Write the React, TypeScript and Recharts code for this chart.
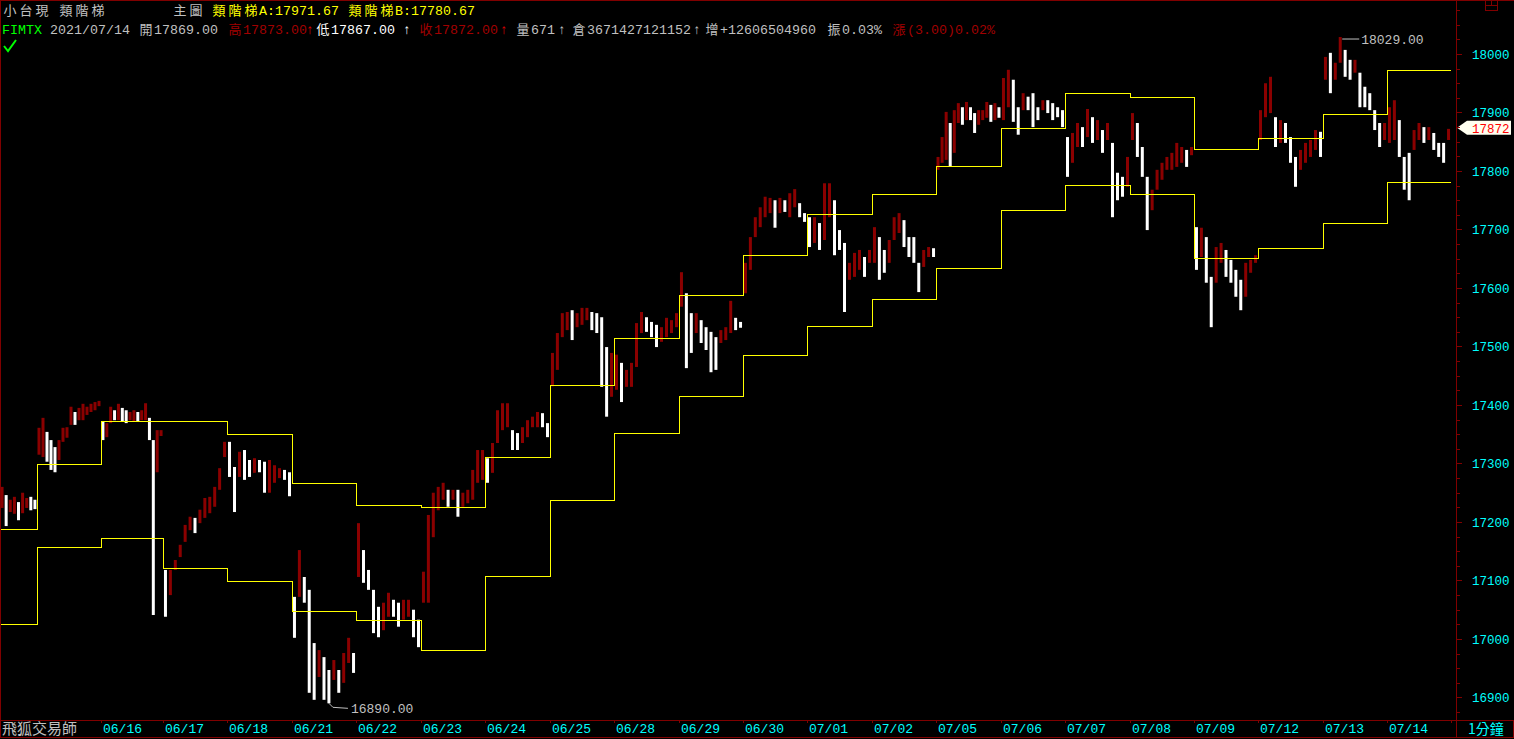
import React from "react";
import {
  ComposedChart,
  Scatter,
  ErrorBar,
  Line,
  XAxis,
  YAxis,
  ReferenceLine,
  ReferenceDot,
} from "recharts";

const W = 1514;
const H = 739;
const FRAME = "#800000";
const UP = "#8b0000";
const DOWN = "#ffffff";
const YELLOW = "#ffff00";
const CYAN = "#00ffff";
const GRAY = "#c0c0c0";
const DARKRED = "#a00000";
const MONO = '"Liberation Mono", "DejaVu Sans Mono", monospace';
const CJK = '"Noto Sans CJK TC", "Noto Sans CJK SC", sans-serif';

// bar slot where each trading day begins (1-minute bars, compressed)
const dayStarts = [0, 37, 101, 163, 227, 292, 356, 421, 485, 550, 614, 679, 743, 807, 872, 936, 1001, 1065, 1130, 1194, 1258, 1323, 1387];
const lastSlot = 1451;
const dateLabels = ["06/16", "06/17", "06/18", "06/21", "06/22", "06/23", "06/24", "06/25", "06/28", "06/29", "06/30", "07/01", "07/02", "07/05", "07/06", "07/07", "07/08", "07/09", "07/12", "07/13", "07/14"];

// 類階梯 A / B, one value per day
const stepA = [17187, 17298, 17372, 17372, 17349, 17266, 17229, 17224, 17310, 17433, 17513, 17588, 17655, 17725, 17759, 17808, 17873, 17933, 17926, 17836, 17855, 17897, 17971.67];
const stepB = [17025, 17156, 17172, 17120, 17099, 17047, 17032, 16980, 17106, 17236, 17351, 17414, 17484, 17535, 17581, 17633, 17733, 17775, 17759, 17650, 17668, 17711, 17780.67];

// price ranges [low, high], in order through each day
const d0611 = [[17224, 17260], [17193, 17246], [17217, 17238], [17214, 17243], [17203, 17234], [17215, 17250], [17224, 17241], [17220, 17243], [17222, 17238]];
const d0615 = [[17315, 17361], [17311, 17378], [17303, 17354], [17289, 17340], [17285, 17328], [17306, 17340], [17337, 17361], [17344, 17362], [17366, 17397], [17366, 17388], [17374, 17395], [17374, 17402], [17383, 17397], [17388, 17402], [17391, 17405], [17398, 17407]];
const d0616 = [[17340, 17371], [17345, 17369], [17369, 17397], [17374, 17391], [17374, 17402], [17371, 17395], [17369, 17391], [17374, 17388], [17371, 17391], [17371, 17388], [17374, 17391], [17374, 17403], [17340, 17378], [17041, 17340], [17285, 17357], [17347, 17357]];
const d0617 = [[17038, 17118], [17075, 17118], [17118, 17135], [17140, 17161], [17166, 17195], [17186, 17209], [17181, 17207], [17198, 17221], [17207, 17241], [17215, 17243], [17226, 17260], [17255, 17292], [17311, 17337]];
const d0618 = [[17277, 17337], [17217, 17294], [17277, 17320], [17272, 17323], [17277, 17306], [17284, 17309], [17285, 17306], [17250, 17303], [17250, 17306], [17267, 17297], [17275, 17292], [17272, 17289], [17244, 17285]];
const d0621 = [[17002, 17072], [17072, 17152], [17062, 17106], [16908, 17084], [16896, 16993], [16935, 16981], [16896, 16969], [16890, 16947], [16930, 16964], [16908, 16947], [16925, 16976], [16959, 17002], [16942, 16976]];
const d0622 = [[17106, 17198], [17096, 17152], [17084, 17118], [17010, 17084], [17003, 17055], [17015, 17062], [17038, 17079], [17038, 17067], [17021, 17062], [17033, 17067], [17038, 17067], [17003, 17050], [16986, 17033]];
const d0623 = [[17062, 17115], [17062, 17212], [17174, 17250], [17220, 17260], [17238, 17267], [17226, 17255], [17238, 17255], [17209, 17255], [17226, 17250], [17232, 17255], [17238, 17289], [17267, 17323], [17272, 17323]];
const d0624 = [[17267, 17309], [17284, 17335], [17335, 17391], [17357, 17403], [17362, 17403], [17323, 17357], [17323, 17352], [17335, 17362], [17345, 17374], [17362, 17380], [17362, 17388], [17362, 17386], [17345, 17369]];
const d0625 = [[17432, 17489], [17460, 17523], [17516, 17557], [17528, 17559], [17511, 17562], [17533, 17557], [17537, 17566], [17545, 17566], [17528, 17559], [17523, 17557], [17431, 17550], [17380, 17499], [17414, 17489]];
const d0628 = [[17426, 17486], [17405, 17472], [17431, 17460], [17431, 17472], [17465, 17540], [17523, 17559], [17525, 17550], [17516, 17542], [17499, 17537], [17508, 17533], [17516, 17549], [17523, 17545], [17533, 17557]];
const d0629 = [[17568, 17627], [17463, 17591], [17489, 17557], [17523, 17557], [17506, 17545], [17494, 17533], [17456, 17525], [17460, 17516], [17506, 17528], [17511, 17533], [17523, 17578], [17528, 17549], [17532, 17542]];
const d0630 = [[17591, 17643], [17631, 17687], [17687, 17721], [17704, 17738], [17721, 17756], [17728, 17754], [17703, 17750], [17728, 17754], [17730, 17750], [17721, 17762], [17738, 17769], [17721, 17745], [17713, 17728]];
const d0701 = [[17670, 17721], [17677, 17721], [17665, 17711], [17682, 17779], [17721, 17779], [17656, 17750], [17665, 17699], [17559, 17677], [17614, 17643], [17619, 17660], [17631, 17665], [17619, 17653], [17643, 17665]];
const d0702 = [[17643, 17704], [17614, 17687], [17626, 17665], [17643, 17682], [17682, 17721], [17694, 17728], [17670, 17716], [17653, 17687], [17643, 17687], [17593, 17643], [17636, 17665], [17653, 17670], [17653, 17668]];
const d0705 = [[17802, 17824], [17814, 17858], [17819, 17901], [17807, 17882], [17831, 17904], [17882, 17916], [17879, 17909], [17887, 17918], [17887, 17909], [17865, 17899], [17879, 17904], [17887, 17904], [17891, 17918], [17884, 17913], [17887, 17916], [17891, 17909]];
const d0706 = [[17887, 17959], [17909, 17973], [17884, 17956], [17862, 17909], [17904, 17933], [17904, 17927], [17875, 17933], [17887, 17909], [17904, 17921], [17899, 17921], [17887, 17916], [17892, 17909], [17875, 17904]];
const d0707 = [[17790, 17858], [17814, 17865], [17841, 17882], [17841, 17875], [17858, 17906], [17848, 17892], [17853, 17887], [17831, 17870], [17853, 17882], [17721, 17848], [17750, 17797], [17756, 17790], [17773, 17824]];
const d0708 = [[17853, 17899], [17824, 17882], [17790, 17841], [17699, 17790], [17733, 17768], [17768, 17802], [17785, 17814], [17802, 17824], [17802, 17831], [17807, 17848], [17814, 17841], [17807, 17836], [17827, 17841]];
const d0709 = [[17631, 17704], [17653, 17703], [17609, 17687], [17533, 17619], [17609, 17670], [17643, 17677], [17619, 17665], [17609, 17648], [17585, 17631], [17562, 17614], [17585, 17643], [17626, 17648], [17643, 17656]];
const d0712 = [[17853, 17904], [17892, 17950], [17899, 17961], [17841, 17892], [17848, 17887], [17848, 17882], [17814, 17858], [17773, 17824], [17802, 17836], [17814, 17848], [17824, 17853], [17836, 17870], [17824, 17867]];
const d0713 = [[17956, 17995], [17933, 18002], [17956, 17985], [17985, 18029], [17961, 18007], [17956, 17990], [17968, 17990], [17909, 17968], [17909, 17944], [17904, 17933], [17870, 17904], [17841, 17882], [17853, 17882]];
const d0714 = [[17848, 17909], [17853, 17921], [17824, 17887], [17768, 17824], [17750, 17831], [17836, 17870], [17853, 17882], [17848, 17875], [17853, 17875], [17836, 17865], [17824, 17848], [17814, 17848], [17853, 17872]];

const days = [d0611, d0615, d0616, d0617, d0618, d0621, d0622, d0623, d0624, d0625, d0628, d0629, d0630, d0701, d0702, d0705, d0706, d0707, d0708, d0709, d0712, d0713, d0714];

// last 1-minute bar (header)
const quoteDate = "2021/07/14";
const lastOpen = 17869;
const lastHigh = 17873;
const lastLow = 17867;
const lastClose = 17872;
const lastVolume = 671;
const openInterest = "3671427121152";
const oiChange = "+12606504960";
const amplitude = "0.03%";
const change = "(3.00)0.02%";

const priceLabels = [16900, 17000, 17100, 17200, 17300, 17400, 17500, 17600, 17700, 17800, 17900, 18000];
const priceTicks: number[] = [];
for (let p = 16875; p <= 18075; p += 25) priceTicks.push(p);

type Slot = { x: number; mid: number; err: [number, number]; lo: number; hi: number; up: boolean };

const slots: Slot[] = [];
let prevMid: number | null = null;
days.forEach((day, k) => {
  const start = dayStarts[k];
  const end = k + 1 < dayStarts.length ? dayStarts[k + 1] : lastSlot;
  const step = (end - start) / day.length;
  day.forEach(([lo, hi], i) => {
    const mid = (lo + hi) / 2;
    slots.push({
      x: start + step * (i + 0.5),
      mid,
      err: [mid - lo, hi - mid],
      lo,
      hi,
      up: prevMid == null ? true : mid >= prevMid,
    });
    prevMid = mid;
  });
});
const upSlots = slots.filter((s) => s.up);
const downSlots = slots.filter((s) => !s.up);
const highSlot = slots.reduce((a, b) => (b.hi > a.hi ? b : a));
const lowSlot = slots.reduce((a, b) => (b.lo < a.lo ? b : a));

const stepPoints = (vals: number[]) =>
  dayStarts.map((x, i) => ({ x, v: vals[i] })).concat([{ x: lastSlot, v: vals[vals.length - 1] }]);
const stepAPts = stepPoints(stepA);
const stepBPts = stepPoints(stepB);

const tickXs = dayStarts.slice(2).concat([lastSlot]);

function DateTick(props: any) {
  const { x, y, payload } = props;
  const idx = tickXs.indexOf(payload.value);
  const label = dateLabels[idx];
  const px = Math.round(x) + 0.5;
  return (
    <g>
      <line x1={px} y1={y} x2={px} y2={y + 3} stroke={FRAME} />
      {label && (
        <text x={x + 2} y={y + 13} fill={CYAN} fontFamily={MONO} fontSize={13}>
          {label}
        </text>
      )}
    </g>
  );
}

function PriceTick(props: any) {
  const { x, y, payload } = props;
  const v = payload.value;
  const major = priceLabels.includes(v);
  const py = Math.round(y) + 0.5;
  return (
    <g>
      <line x1={x} y1={py} x2={x + (major ? 5 : 3)} y2={py} stroke={FRAME} />
      {major && (
        <text x={x + 15} y={y + 5} fill={CYAN} fontFamily={MONO} fontSize={12.5}>
          {v}
        </text>
      )}
    </g>
  );
}

function PriceTag(props: any) {
  const vb = props.viewBox || {};
  const left = (vb.x || 0) + (vb.width || 0);
  const cy = (vb.y || 0) + (vb.height || 0) / 2 - 1;
  return (
    <g>
      <polygon
        points={`${left},${cy} ${left + 10},${cy - 7} ${left + 54},${cy - 7} ${left + 54},${cy + 7} ${left + 10},${cy + 7}`}
        fill="#fffff0"
      />
      <text x={left + 15} y={cy + 5} fill="#ff0000" fontFamily={MONO} fontSize={12.5}>
        {lastClose}
      </text>
    </g>
  );
}

function HighMark(props: any) {
  const { cx, cy } = props;
  return (
    <g>
      <line x1={cx + 2} y1={cy + 2} x2={cx + 19} y2={cy + 2} stroke={GRAY} />
      <text x={cx + 21} y={cy + 7} fill={GRAY} fontFamily={MONO} fontSize={13}>
        {highSlot.hi.toFixed(2)}
      </text>
    </g>
  );
}

function LowMark(props: any) {
  const { cx, cy } = props;
  return (
    <g>
      <polyline points={`${cx},${cy} ${cx + 4},${cy + 4} ${cx + 19},${cy + 5}`} stroke={GRAY} fill="none" />
      <text x={cx + 22} y={cy + 10} fill={GRAY} fontFamily={MONO} fontSize={13}>
        {lowSlot.lo.toFixed(2)}
      </text>
    </g>
  );
}

const isWide = (ch: string) => ch.charCodeAt(0) >= 0x2e80;

function Seg({ x, y, text, color }: { x: number; y: number; text: string; color: string }) {
  return (
    <div style={{ position: "absolute", left: x, top: y, height: 19, lineHeight: "19px", whiteSpace: "pre", color }}>
      {Array.from(text).map((ch, i) => (
        <span
          key={i}
          style={{
            display: "inline-block",
            width: isWide(ch) ? 16 : 8,
            textAlign: "center",
            fontFamily: isWide(ch) ? CJK : MONO,
            fontSize: isWide(ch) ? 13 : 13.3,
          }}
        >
          {ch}
        </span>
      ))}
    </div>
  );
}

const headerRow1 = [
  { x: 2, text: "小台現", color: GRAY },
  { x: 58, text: "類階梯", color: GRAY },
  { x: 172, text: "主圖", color: GRAY },
  { x: 211, text: `類階梯A:${stepA[stepA.length - 1].toFixed(2)}`, color: YELLOW },
  { x: 347, text: `類階梯B:${stepB[stepB.length - 1].toFixed(2)}`, color: YELLOW },
];

const headerRow2 = [
  { x: 2, text: "FIMTX", color: "#00ff00" },
  { x: 50, text: quoteDate, color: GRAY },
  { x: 138, text: `開${lastOpen.toFixed(2)}`, color: GRAY },
  { x: 227, text: `高${lastHigh.toFixed(2)}`, color: DARKRED },
  { x: 306, text: "↑", color: "#e00000" },
  { x: 315, text: `低${lastLow.toFixed(2)}`, color: "#ffffff" },
  { x: 403, text: "↑", color: "#ffffff" },
  { x: 418, text: `收${lastClose.toFixed(2)}`, color: DARKRED },
  { x: 500, text: "↑", color: "#e00000" },
  { x: 515, text: `量${lastVolume}`, color: GRAY },
  { x: 558, text: "↑", color: GRAY },
  { x: 571, text: `倉${openInterest}`, color: GRAY },
  { x: 693, text: "↑", color: GRAY },
  { x: 704, text: `增${oiChange}`, color: GRAY },
  { x: 826, text: `振${amplitude}`, color: GRAY },
  { x: 891, text: `漲${change}`, color: DARKRED },
];

export default function App() {
  return (
    <div style={{ position: "absolute", left: 0, top: 0, width: W, height: H, background: "#000", overflow: "hidden" }}>
      <ComposedChart width={W} height={H} margin={{ top: 0, right: 0, bottom: 0, left: 0 }}>
        <XAxis
          dataKey="x"
          type="number"
          domain={[0, 1457]}
          allowDataOverflow
          ticks={tickXs}
          interval={0}
          height={19}
          axisLine={false}
          tickLine={false}
          tickSize={0}
          tickMargin={0}
          tick={<DateTick />}
        />
        <YAxis
          type="number"
          orientation="right"
          domain={[16861.5, 18092.3]}
          allowDataOverflow
          ticks={priceTicks}
          interval={0}
          width={57}
          axisLine={false}
          tickLine={false}
          tickSize={0}
          tickMargin={0}
          tick={<PriceTick />}
        />
        <Scatter data={upSlots} dataKey="mid" shape={() => <g />} isAnimationActive={false}>
          <ErrorBar dataKey="err" direction="y" width={0} stroke={UP} strokeWidth={3} isAnimationActive={false} />
        </Scatter>
        <Scatter data={downSlots} dataKey="mid" shape={() => <g />} isAnimationActive={false}>
          <ErrorBar dataKey="err" direction="y" width={0} stroke={DOWN} strokeWidth={3} isAnimationActive={false} />
        </Scatter>
        <Line
          data={stepAPts}
          dataKey="v"
          type="stepAfter"
          stroke={YELLOW}
          strokeWidth={1}
          shapeRendering="crispEdges"
          dot={false}
          activeDot={false}
          isAnimationActive={false}
        />
        <Line
          data={stepBPts}
          dataKey="v"
          type="stepAfter"
          stroke={YELLOW}
          strokeWidth={1}
          shapeRendering="crispEdges"
          dot={false}
          activeDot={false}
          isAnimationActive={false}
        />
        <ReferenceDot x={highSlot.x} y={highSlot.hi} shape={(p: any) => <HighMark {...p} />} />
        <ReferenceDot x={lowSlot.x} y={lowSlot.lo} shape={(p: any) => <LowMark {...p} />} />
        <ReferenceLine y={lastClose} stroke="none" label={(p: any) => <PriceTag {...p} />} />
      </ComposedChart>

      <svg width={W} height={H} style={{ position: "absolute", left: 0, top: 0, pointerEvents: "none" }}>
        <g stroke={FRAME} strokeWidth={1} shapeRendering="crispEdges" fill="none">
          <line x1={0} y1={0.5} x2={W} y2={0.5} />
          <line x1={0.5} y1={0} x2={0.5} y2={738} />
          <line x1={1456.5} y1={0} x2={1456.5} y2={738} />
          <line x1={0} y1={720.5} x2={W} y2={720.5} />
          <line x1={0} y1={737.5} x2={W} y2={737.5} />
          <line x1={1513.5} y1={720} x2={1513.5} y2={738} />
          <rect x={1485.5} y={0.5} width={12} height={10} />
          <line x1={1485.5} y1={5.5} x2={1497.5} y2={5.5} />
          <line x1={1491.5} y1={0.5} x2={1491.5} y2={5.5} />
        </g>
        <polyline points="4,46 8,51 16,40" stroke="#00ff00" strokeWidth={2} fill="none" />
        <text x={2} y={734} fill={GRAY} fontFamily={CJK} fontSize={15}>
          飛狐交易師
        </text>
        <text x={1468} y={734} fill={CYAN} fontFamily={CJK} fontSize={14}>
          1分鐘
        </text>
      </svg>

      {headerRow1.map((s, i) => (
        <Seg key={`a${i}`} x={s.x} y={0} text={s.text} color={s.color} />
      ))}
      {headerRow2.map((s, i) => (
        <Seg key={`b${i}`} x={s.x} y={19} text={s.text} color={s.color} />
      ))}
    </div>
  );
}
